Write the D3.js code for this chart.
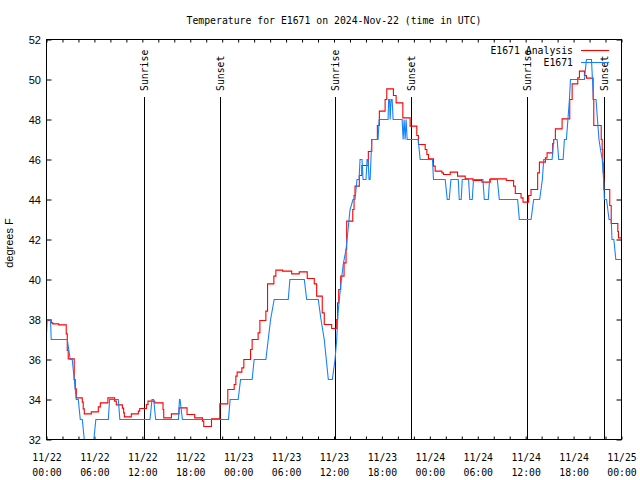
<!DOCTYPE html>
<html><head><meta charset="utf-8">
<script src="https://cdn.jsdelivr.net/npm/d3@7"></script>
<style>
body{margin:0;background:#fff}
.mono{font-family:"DejaVu Sans Mono","Liberation Mono",monospace;font-size:9.8px;fill:#000}
.sans{font-family:"Liberation Sans",Arial,sans-serif;font-size:11px;fill:#000}
</style>
</head><body>
<svg id="chart" width="640" height="480"></svg>
<script>
// ---------------- data (hours since 2024-11-22 00:00 UTC) ----------------
const chartTitle = "Temperature for E1671 on 2024-Nov-22 (time in UTC)";
const yAxisLabel = "degrees F";
const seriesNames = ["E1671 Analysis", "E1671"];
const yTickValues = [32, 34, 36, 38, 40, 42, 44, 46, 48, 50, 52];
const xLabelHours = [0, 6, 12, 18, 24, 30, 36, 42, 48, 54, 60, 66, 72];
const xTickDates = ["11/22","11/22","11/22","11/22","11/23","11/23","11/23","11/23","11/24","11/24","11/24","11/24","11/25"];
const xTickTimes = ["00:00","06:00","12:00","18:00","00:00","06:00","12:00","18:00","00:00","06:00","12:00","18:00","00:00"];
const sunriseHours = [12.17, 36.15, 60.2];
const sunsetHours = [21.7, 45.65, 69.75];

// Analysis (red) – step changes: time, value
const analysisTimes = [0.00,0.59,0.79,1.54,2.47,2.60,2.72,3.47,3.60,3.73,4.48,4.60,4.73,5.61,6.49,6.74,7.69,8.53,8.74,9.50,9.66,9.75,10.62,11.50,11.67,12.51,12.71,13.55,14.59,14.68,15.64,16.60,17.60,18.56,19.53,19.69,20.66,21.70,22.70,23.50,23.71,23.87,24.46,24.71,25.55,25.75,26.50,26.72,27.47,27.68,28.47,28.72,29.57,30.70,31.65,32.65,33.53,33.83,34.53,34.78,35.71,36.34,36.44,36.59,36.84,37.26,37.51,37.59,38.35,38.51,38.63,39.17,39.48,40.30,40.73,41.43,41.68,42.40,42.61,43.44,43.78,44.62,45.53,46.37,46.57,47.42,47.63,47.83,48.46,48.67,49.51,49.71,50.55,51.47,52.43,53.40,54.53,55.57,57.58,58.49,58.70,59.42,59.67,60.37,60.67,61.50,61.72,62.47,62.68,63.38,63.51,63.72,64.56,65.52,65.82,66.52,66.73,67.36,67.61,68.45,68.53,69.46,69.58,69.66,69.71,69.78,70.53,70.71,71.54,71.62,72.00];
const analysisValues = [37.97,37.83,37.78,37.73,37.28,36.45,36.03,35.0,34.53,34.08,33.87,33.53,33.28,33.38,33.63,33.83,34.08,33.92,33.73,33.57,33.33,33.13,33.28,33.42,33.55,33.75,33.92,33.83,33.5,33.08,33.28,33.58,33.25,33.08,32.92,32.65,33.03,33.78,34.5,34.75,35.17,35.37,35.58,36.0,36.5,37.0,37.33,37.95,38.42,39.78,40.17,40.47,40.42,40.28,40.38,40.05,39.78,39.17,38.33,37.75,37.55,38.0,38.83,39.5,40.17,40.83,41.5,42.92,43.5,44.2,44.67,45.2,45.7,46.4,47.0,47.7,48.42,49.0,49.53,49.2,48.83,48.08,47.67,47.2,46.75,46.5,46.25,46.03,45.67,45.42,45.33,45.25,45.37,45.17,45.03,44.95,44.87,45.03,44.95,44.67,44.3,44.08,43.87,44.2,44.5,45.33,45.87,46.08,46.33,46.8,47.0,47.53,48.03,49.0,49.78,50.08,50.42,50.2,50.07,49.0,47.7,47.0,46.5,45.83,45.35,44.5,43.7,42.8,42.4,42.08,42.08];

// Observations (blue) – points joined by straight lines: time, value
const obsTimes = [0.00,0.09,0.50,0.59,2.60,2.97,3.22,3.73,3.98,4.23,4.48,4.98,5.68,6.18,7.74,7.90,8.99,9.19,12.96,13.21,13.42,13.67,16.52,16.65,16.72,17.02,22.79,22.99,24.00,24.30,25.75,26.00,27.47,28.06,28.51,30.27,30.48,32.28,32.58,34.03,34.37,34.78,35.29,35.79,36.13,36.34,36.50,36.84,37.17,37.51,37.76,38.01,38.38,38.63,38.88,39.14,39.26,39.51,39.64,40.01,40.14,40.26,40.39,40.52,40.73,41.52,41.65,42.77,42.84,42.96,43.03,43.15,43.28,43.40,44.53,44.66,44.78,44.91,45.03,45.16,46.54,46.79,48.33,48.46,49.92,50.18,50.43,50.64,51.56,51.68,51.93,52.06,52.85,53.00,53.31,53.47,54.65,54.82,55.32,55.48,56.45,56.70,58.99,59.21,60.68,61.00,61.75,62.09,62.26,63.31,63.51,63.94,64.14,64.69,64.85,65.10,65.29,65.48,65.61,67.36,67.61,68.24,68.49,68.81,68.99,69.18,69.37,69.59,69.79,69.85,70.13,70.44,70.71,70.81,71.04,71.29,72.00];
const obsValues = [37.3,38,38,37,37,36,36,34,34,33,33,31,31,33,33,34,34,33,33,34,34,33,33,34,34,33,33,34,34,35,35,36,36,38,39,39,40,40,39,39,38,37,35,35,36,37,38.3,39.7,40.8,41.5,42.5,43.5,44,44,45,45,46,46,45,45,46,46,45,45,47,47,48,48,49,49,48,49,49,48,48,47,48,47,48,47,47,46,46,45,45,44,44,45,45,44,44,45,45,44,44,45,45,44,44,45,45,44,44,43,43,44,44,45,46,46,47,47,46,46,47,47,48,49,50,50,51,51,49,49,48,47,46.5,46,44.8,44,44,43,43,42,42,41,41];

// ---------------- drawing ----------------
const svg = d3.select("#chart");
const L = 46.5, R = 621.5, T = 39.5, B = 439.5;
const t0 = Date.UTC(2024, 10, 22);
const toDate = h => new Date(t0 + h * 3600000);
const x = d3.scaleUtc().domain([toDate(0), toDate(72)]).range([L, R]);
const y = d3.scaleLinear().domain([32, 52]).range([B, T]);

svg.append("rect").attr("width", 640).attr("height", 480).attr("fill", "#fff");

svg.append("defs").append("clipPath").attr("id", "clip")
  .append("rect").attr("x", L).attr("y", T).attr("width", R - L).attr("height", B - T);

// title
svg.append("text").attr("class", "mono").attr("x", (L + R) / 2).attr("y", 24.3)
  .attr("text-anchor", "middle").text(chartTitle);

// y label
svg.append("text").attr("class", "sans").attr("transform", "translate(13,243) rotate(-90)")
  .attr("text-anchor", "middle").text(yAxisLabel);

// x ticks (every 2 hours) bottom & top
const minorTicks = d3.utcHour.every(2).range(toDate(0), toDate(72.01));
const gxb = svg.append("g").attr("transform", `translate(0,${B})`)
  .call(d3.axisBottom(x).tickValues(minorTicks).tickSize(-3).tickFormat(""));
const gxt = svg.append("g").attr("transform", `translate(0,${T})`)
  .call(d3.axisTop(x).tickValues(minorTicks).tickSize(-3).tickFormat(""));
[gxb, gxt].forEach(g => { g.select(".domain").remove(); g.selectAll("line").attr("stroke", "#000"); });

// x tick labels (two lines)
const labelDates = xLabelHours.map(toDate);
const gxl = svg.append("g").attr("transform", `translate(0,${B})`)
  .call(d3.axisBottom(x).tickValues(labelDates).tickSize(0).tickFormat(""));
gxl.select(".domain").remove();
gxl.selectAll(".tick").each(function (d, i) {
  const t = d3.select(this).append("text").attr("class", "mono").attr("text-anchor", "middle");
  t.append("tspan").attr("x", 0).attr("y", 21).text(xTickDates[i]);
  t.append("tspan").attr("x", 0).attr("y", 36).text(xTickTimes[i]);
});

// y ticks left & right
const gyl = svg.append("g").attr("transform", `translate(${L},0)`)
  .call(d3.axisLeft(y).tickValues(yTickValues).tickSize(-5).tickPadding(6).tickFormat(d3.format("d")));
gyl.select(".domain").remove();
gyl.selectAll("line").attr("stroke", "#000");
gyl.selectAll("text").attr("class", "sans").attr("x", -5.5).attr("dy", "0.36em").attr("fill", "#000");
const gyr = svg.append("g").attr("transform", `translate(${R},0)`)
  .call(d3.axisRight(y).tickValues(yTickValues).tickSize(-5).tickFormat(""));
gyr.select(".domain").remove();
gyr.selectAll("line").attr("stroke", "#000");

// sunrise / sunset markers
const events = sunriseHours.map(h => ({ h, label: "Sunrise" }))
  .concat(sunsetHours.map(h => ({ h, label: "Sunset" })));
events.forEach(e => {
  const px = Math.round(x(toDate(e.h))) + 0.5;
  svg.append("line").attr("x1", px).attr("x2", px).attr("y1", 97).attr("y2", B)
    .attr("stroke", "#000").attr("stroke-width", 1);
  svg.append("text").attr("class", "mono")
    .attr("transform", `translate(${px + 3.3},91) rotate(-90)`)
    .attr("text-anchor", "start").text(e.label);
});

// series
const plot = svg.append("g").attr("clip-path", "url(#clip)");
const analysis = analysisTimes.map((t, i) => [toDate(t), analysisValues[i]]);
const obs = obsTimes.map((t, i) => [toDate(t), obsValues[i]]);
plot.append("path").datum(analysis).attr("fill", "none").attr("stroke", "#ff0000").attr("stroke-width", 1.1)
  .attr("d", d3.line().x(d => x(d[0])).y(d => y(d[1])).curve(d3.curveStepAfter));
plot.append("path").datum(obs).attr("fill", "none").attr("stroke", "#1482ff").attr("stroke-width", 1.1)
  .attr("d", d3.line().x(d => x(d[0])).y(d => y(d[1])));

// frame
svg.append("rect").attr("x", L).attr("y", T).attr("width", R - L).attr("height", B - T)
  .attr("fill", "none").attr("stroke", "#000").attr("stroke-width", 1);

// legend
const legend = [
  { name: seriesNames[0], color: "#ff0000", y: 50.5 },
  { name: seriesNames[1], color: "#1482ff", y: 62.5 }
];
legend.forEach(l => {
  svg.append("text").attr("class", "mono").attr("x", 573).attr("y", l.y + 3.8)
    .attr("text-anchor", "end").text(l.name);
  svg.append("line").attr("x1", 581).attr("x2", 609).attr("y1", l.y).attr("y2", l.y)
    .attr("stroke", l.color).attr("stroke-width", 1.1);
});
</script>
</body></html>
